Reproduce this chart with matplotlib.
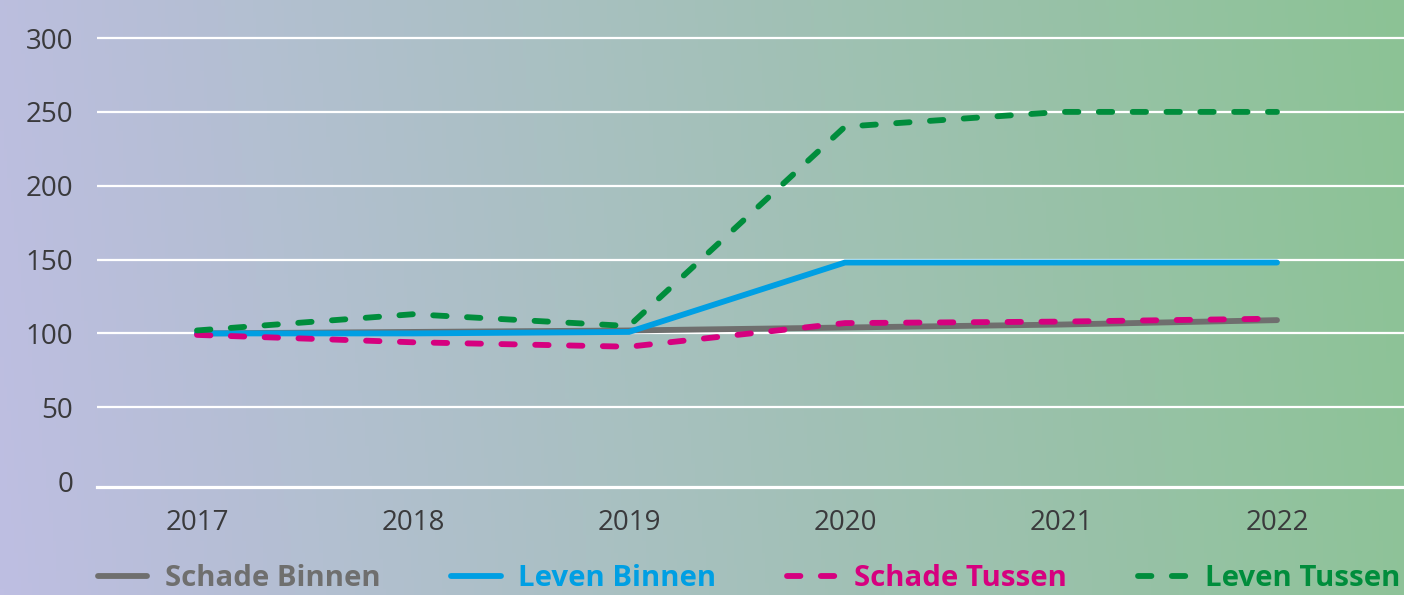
import matplotlib
matplotlib.use('Agg')
import matplotlib.pyplot as plt
import numpy as np

years = [2017, 2018, 2019, 2020, 2021, 2022]
schade_binnen = [100, 101, 102, 104, 106, 109]
leven_binnen = [100, 100, 101, 148, 148, 148]
schade_tussen = [99, 94, 91, 107, 108, 110]
leven_tussen = [102, 113, 105, 240, 250, 250]

labels = ['Schade Binnen', 'Leven Binnen', 'Schade Tussen', 'Leven Tussen']
colors = ['#6f6f6e', '#009fe3', '#d6007f', '#008d3c']
y_ticks = [0, 50, 100, 150, 200, 250, 300]

plt.rcParams['font.family'] = ['Open Sans', 'DejaVu Sans']

fig = plt.figure(figsize=(14.04, 5.95), dpi=100)

# gradient background, lavender -> green
bg = fig.add_axes([0, 0, 1, 1], zorder=-10)
left_col = np.array([190, 190, 226]) / 255
right_col = np.array([140, 195, 149]) / 255
xx, yy = np.meshgrid(np.linspace(0, 1, 400), np.linspace(0, 1, 100))
t = np.clip(xx * 0.95 + (1 - yy) * 0.05, 0, 1)
img = left_col[None, None, :] * (1 - t[..., None]) + right_col[None, None, :] * t[..., None]
bg.imshow(img, aspect='auto', extent=[0, 1, 0, 1], origin='upper')
bg.axis('off')

ax = fig.add_axes([97 / 1404, 0.182, 1 - 97 / 1404, 0.759])
ax.set_facecolor('none')

series = [schade_binnen, leven_binnen, schade_tussen, leven_tussen]
styles = ['-', '-', '--', '--']
for vals, lab, col, ls in zip(series, labels, colors, styles):
    line, = ax.plot(years, vals, color=col, lw=4.2, label=lab, linestyle=ls,
                    solid_capstyle='round', dash_capstyle='round',
                    solid_joinstyle='miter', zorder=3)
    if ls == '--':
        line.set_dashes((2.3, 3.5))

ax.set_xlim(2017 - 0.463, 2022 + 0.588)
ax.set_ylim(-3.8, 302)
ax.set_xticks(years)
ax.set_yticks(y_ticks)
ax.tick_params(length=0, labelsize=20, colors='#3a3a3c')
ax.tick_params(axis='y', pad=17)
ax.tick_params(axis='x', pad=16)

for v in y_ticks[1:]:
    ax.axhline(v, color='white', lw=1.6, zorder=1)

for s in ['top', 'right', 'left']:
    ax.spines[s].set_visible(False)
ax.spines['bottom'].set_color('white')
ax.spines['bottom'].set_linewidth(2.3)

leg = fig.legend(loc='center left', bbox_to_anchor=(86 / 1404, 1 - 579 / 595),
                 ncol=4, frameon=False, handlelength=1.68, handletextpad=0.6,
                 columnspacing=2.4, labelcolor='linecolor',
                 prop={'weight': 'bold', 'size': 21.2}, borderaxespad=0)

fig.savefig('out.png', dpi=100)
